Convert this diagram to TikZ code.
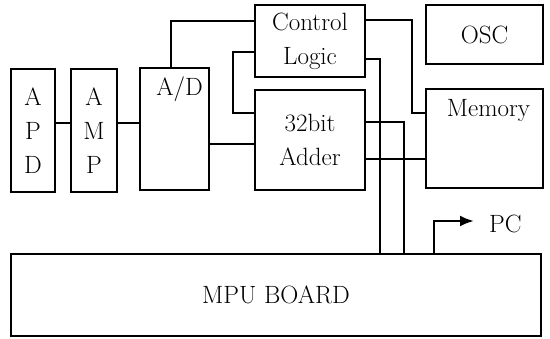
\documentclass[tikz,border=0pt]{standalone}
\usepackage{fontspec}
\usetikzlibrary{arrows.meta}

\begin{document}
\begin{tikzpicture}[x=1pt,y=-1pt,line width=2.4pt,
  txt/.style={font=\fontsize{25}{34}\selectfont},
  blk/.style={draw,txt,inner sep=0pt,align=center}]
  \useasboundingbox (0,0) rectangle (550,339);

  \node[blk,minimum width=44pt,minimum height=123pt] (apd) at (33,130.5) {A\\P\\D};
  \node[blk,minimum width=46pt,minimum height=123pt] (amp) at (94,130.5) {A\\M\\P};
  \node[blk,minimum width=69pt,minimum height=122pt,
        label={[txt,anchor=north,inner sep=0pt,yshift=-9pt,xshift=5pt]north:A/D}] (ad) at (174.5,129) {};
  \node[blk,minimum width=110pt,minimum height=72pt] (ctl) at (310,41) {Control\\Logic};
  \node[blk,minimum width=110pt,minimum height=100pt] (add) at (310,140) {32bit\\Adder};
  \node[blk,minimum width=117pt,minimum height=59pt] (osc) at (484.5,34.5) {OSC};
  \node[blk,minimum width=117pt,minimum height=99pt,
        label={[txt,anchor=north,inner sep=0pt,yshift=-10pt,xshift=4pt]north:Memory}] (mem) at (484.5,138.5) {};
  \node[blk,minimum width=530pt,minimum height=82pt] (mpu) at (276,295) {MPU BOARD};
  \node[txt,inner sep=0pt,anchor=west] (pc) at (488,224) {PC};

  \draw (apd.east |- 0,123) -- (amp.west |- 0,123);
  \draw (amp.east |- 0,123) -- (ad.west |- 0,123);
  \draw (ad.north -| 171,0) |- (ctl.west |- 0,21);
  \draw (ctl.west |- 0,52) -| (233,113) -- (add.west |- 0,113);
  \draw (ad.east |- 0,144) -- (add.west |- 0,144);
  \draw (ctl.east |- 0,20) -| (412,113) -- (mem.west |- 0,113);
  \draw (ctl.east |- 0,59) -| (mpu.north -| 380,0);
  \draw (add.east |- 0,122) -| (mpu.north -| 404,0);
  \draw (add.east |- 0,159) -- (mem.west |- 0,159);
  \draw[-{Latex[length=14pt,width=11pt]}] (mpu.north -| 434,0) |- ([xshift=-14pt,yshift=3pt]pc.west);
\end{tikzpicture}
\end{document}
